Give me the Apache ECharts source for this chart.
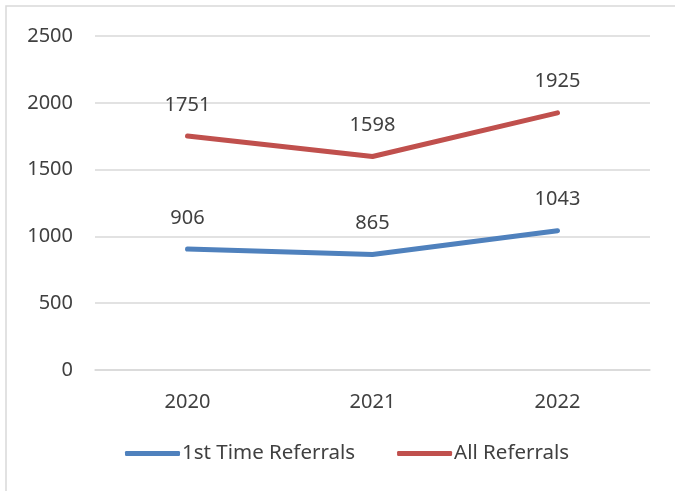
<!DOCTYPE html>
<html><head><meta charset="utf-8">
<script src="https://cdn.jsdelivr.net/npm/echarts@6/dist/echarts.min.js"></script>
<style>html,body{margin:0;padding:0;background:#fff}#c{width:675px;height:491px}</style>
</head><body><div id="c"></div>
<script>
const categories = ['2020', '2021', '2022'];
const firstTime = [906, 865, 1043];
const allReferrals = [1751, 1598, 1925];
const seriesNames = ['1st Time Referrals', 'All Referrals'];
const yTicks = { min: 0, max: 2500, interval: 500 };

const chart = echarts.init(document.getElementById('c'), null, { renderer: 'canvas' });
const font = '"Noto Sans", "Open Sans", sans-serif';
const txt = '#404040';
const fs = 20;
const lbl = { show: true, position: 'top', distance: 21, color: txt, fontSize: fs, fontFamily: font };
chart.setOption({
  animation: false,
  graphic: [{ type: 'rect', shape: { x: 6, y: 6, width: 700, height: 500 }, style: { fill: 'none', stroke: '#d9d9d9', lineWidth: 1.5 } }],
  grid: { left: 95, right: 25, top: 36, bottom: 121 },
  legend: {
    bottom: 22, left: 120, itemWidth: 55, itemHeight: 5, itemGap: 42,
    textStyle: { color: txt, fontSize: 20.5, fontFamily: font, padding: [0, 0, 0, -3] },
    data: seriesNames.map(n => ({ name: n, icon: 'roundRect' }))
  },
  xAxis: {
    type: 'category', data: categories,
    axisLine: { lineStyle: { color: '#d9d9d9', width: 1.5 } },
    axisTick: { show: false },
    axisLabel: { color: txt, fontSize: fs, fontFamily: font, margin: 22 }
  },
  yAxis: {
    type: 'value', min: yTicks.min, max: yTicks.max, interval: yTicks.interval,
    axisLine: { show: false }, axisTick: { show: false },
    splitLine: { lineStyle: { color: '#d9d9d9', width: 1.5 } },
    axisLabel: { color: txt, fontSize: fs, fontFamily: font, margin: 22, formatter: v => String(v) }
  },
  series: [
    { name: seriesNames[0], type: 'line', data: firstTime, symbol: 'circle', symbolSize: 0.1, lineStyle: { color: '#4F81BD', width: 5, cap: 'round' }, itemStyle: { color: '#4F81BD' }, label: lbl },
    { name: seriesNames[1], type: 'line', data: allReferrals, symbol: 'circle', symbolSize: 0.1, lineStyle: { color: '#C0504D', width: 5, cap: 'round' }, itemStyle: { color: '#C0504D' }, label: lbl }
  ]
});
</script></body></html>
